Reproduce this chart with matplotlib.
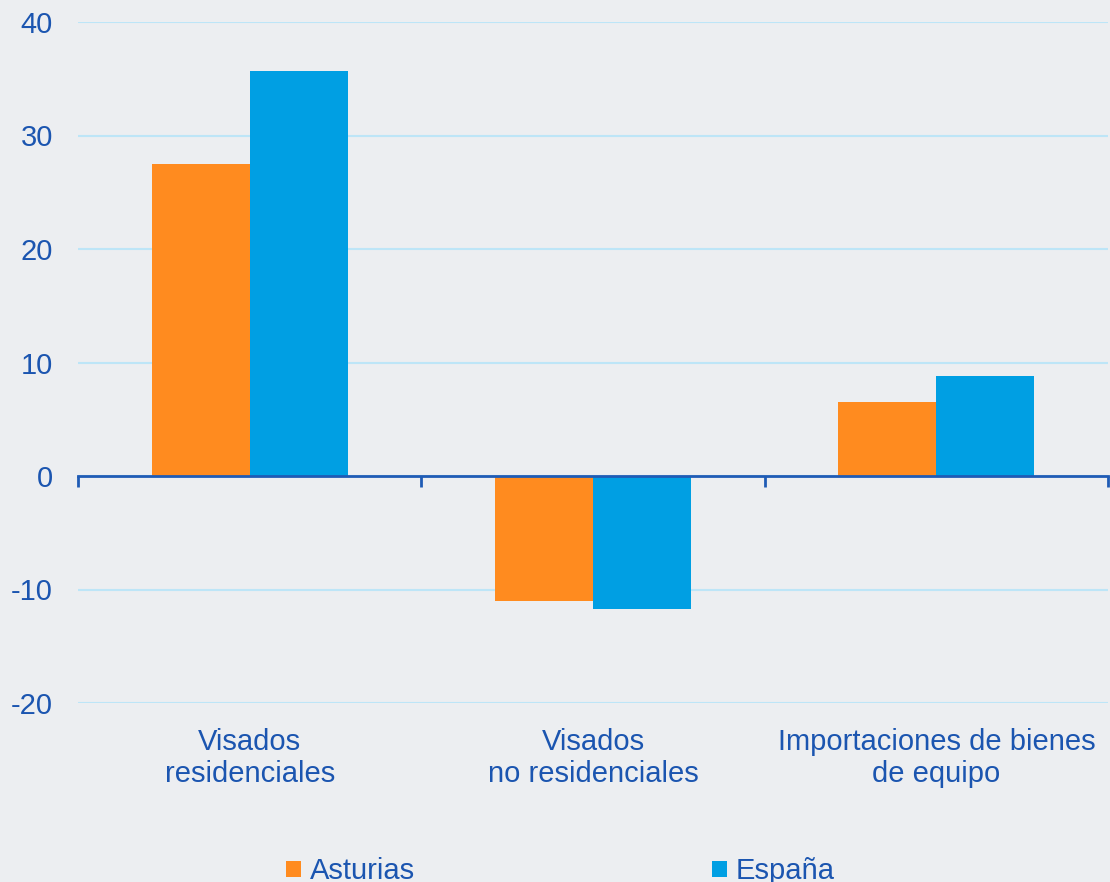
import matplotlib
matplotlib.use("Agg")
import matplotlib.pyplot as plt
import numpy as np
from matplotlib.patches import Patch

categories = ["Visados\nresidenciales", "Visados\nno residenciales", "Importaciones de bienes\nde equipo"]
series_names = ["Asturias", "España"]
asturias = [27.5, -11.0, 6.5]
espana = [35.7, -11.7, 8.8]
yticks = [-20, -10, 0, 10, 20, 30, 40]

BG = "#ECEEF1"
TXT = "#1B55B0"
ORANGE = "#FF8B1F"
BLUE = "#009FE3"
GRID = "#BDE5F7"
AXIS = "#1F5BB5"

plt.rcParams['font.family'] = ['Liberation Sans', 'DejaVu Sans']

fig = plt.figure(figsize=(11.1, 8.82), dpi=100, facecolor=BG)
ax = fig.add_axes([78/1110, 179/882, 1030/1110, 681/882])
ax.set_facecolor(BG)

x = np.arange(len(categories))
w = 0.285
ax.bar(x - w/2, asturias, w, color=ORANGE, label=series_names[0], zorder=3)
ax.bar(x + w/2, espana, w, color=BLUE, label=series_names[1], zorder=3)

ax.set_xlim(-0.5, len(categories) - 0.5)
ax.set_ylim(-20, 40)
ax.set_yticks(yticks)
ax.set_yticklabels([str(t) for t in yticks])
ax.yaxis.grid(True, color=GRID, linewidth=1.5, zorder=0)
ax.set_axisbelow(True)
ax.tick_params(axis='y', length=0, pad=18, labelsize=21, labelcolor=TXT)

for s in ['left', 'right', 'top']:
    ax.spines[s].set_visible(False)
ax.spines['bottom'].set_position(('data', 0))
ax.spines['bottom'].set_color(AXIS)
ax.spines['bottom'].set_linewidth(2)
ax.spines['bottom'].set_zorder(4)
ax.set_xticks(np.arange(len(categories) + 1) - 0.5)
ax.set_xticklabels([])
ax.tick_params(axis='x', direction='out', length=8, width=2, color=AXIS)

for i, lab in enumerate(categories):
    ax.annotate(lab, xy=(i, 0), xycoords=('data', 'axes fraction'),
                xytext=(0, -18), textcoords='offset points',
                ha='center', va='top', fontsize=21, color=TXT, linespacing=1.18)

handles = [Patch(facecolor=ORANGE, label=series_names[0]),
           Patch(facecolor=BLUE, label=series_names[1])]
leg = fig.legend(handles=handles, loc='center', bbox_to_anchor=(0.505, 0.012),
                 ncol=2, frameon=False, fontsize=21, labelcolor=TXT,
                 handlelength=0.5, handleheight=0.5, handletextpad=0.3,
                 columnspacing=10.2)

fig.savefig("out.png", dpi=100, facecolor=BG)
